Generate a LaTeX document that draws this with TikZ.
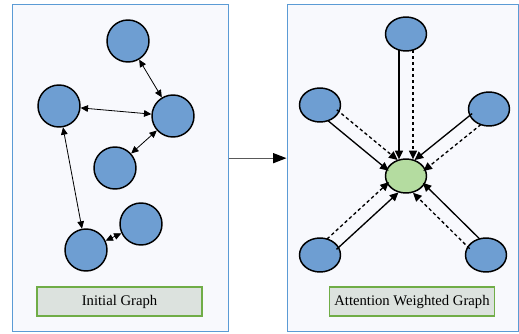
\documentclass[tikz,border=0pt]{standalone}
\usepackage{fontspec}
\setmainfont{Liberation Serif}
\usetikzlibrary{arrows.meta}
\usetikzlibrary{calc, shapes.geometric}

\definecolor{nodeblue}{HTML}{6E9ED2}
\definecolor{nodegreen}{HTML}{B4DCA0}
\definecolor{panelfill}{HTML}{F8F9FD}
\definecolor{panelline}{HTML}{5B9BD5}
\definecolor{tagfill}{HTML}{DCE2DE}
\definecolor{tagline}{HTML}{70AD47}

\tikzset{
  panel/.style = {draw=panelline, fill=panelfill, line width=0.75pt, inner sep=0pt},
  bnode/.style = {circle, draw, fill=nodeblue, line width=1.1pt, minimum size=31.5pt, inner sep=0pt},
  enode/.style = {ellipse, draw, fill=nodeblue, line width=1.1pt, minimum width=30.75pt, minimum height=25.5pt, inner sep=0pt},
  tag/.style   = {draw=tagline, fill=tagfill, line width=1.1pt, minimum width=124pt, minimum height=21.75pt, inner sep=0pt, font=\fontsize{11}{13}\selectfont}
}

\begin{document}
\begin{tikzpicture}[x = 0.75pt, y = -0.75pt, >={Triangle[length=5.5pt,width=5pt]}]
\useasboundingbox (0,0) rectangle (519,333);

% panels
\node(initpanel) at (120,167.5) [panel, minimum width=162pt, minimum height=245.25pt]{};
\node(attpanel) at (402.5,167.5) [panel, minimum width=173.25pt, minimum height=245.25pt]{};
\draw[-{Triangle[length=10pt,width=7.5pt,color=black]}, line width=0.9pt, draw=black!65] ([yshift=7pt]initpanel.east) -- ([yshift=7pt]attpanel.west);

% initial graph
\node(a) at (128,41) [bnode]{};
\node(b) at (59,106) [bnode]{};
\node(c) at (173,116) [bnode]{};
\node(d) at (115,168) [bnode]{};
\node(e) at (141,224) [bnode]{};
\node(f) at (86,250) [bnode]{};
\draw[<->, line width=0.6pt] (a) -- (c);
\draw[<->, line width=0.6pt] (b) -- (c);
\draw[<->, line width=0.6pt] (c) -- (d);
\draw[<->, line width=0.6pt] (b) -- (f);
\draw[<->, line width=0.6pt] (e) -- (f);
\node(inittag) at (119.5,301.5) [tag]{Initial Graph};

% attention weighted graph
\node(ctr) at (406,176) [enode, fill=nodegreen]{};
\node(top) at (406,34) [enode]{};
\node(ul) at (320,105) [enode]{};
\node(ur) at (489,109) [enode]{};
\node(ll) at (320,255) [enode]{};
\node(lr) at (486,255) [enode]{};
\foreach \o in {top,ul,ur,ll,lr}{
  \draw[-{Triangle[length=6.5pt,width=6pt]}, line width=1pt, shorten <=12pt, shorten >=12.5pt]
    ($(\o.center)!5.25pt!-90:(ctr.center)$) -- ($(ctr.center)!5.25pt!90:(\o.center)$);
  \draw[-{Triangle[length=6.5pt,width=6pt]}, line width=1pt, dash pattern=on 2.5pt off 2pt, shorten <=12pt, shorten >=12.5pt]
    ($(\o.center)!5.25pt!90:(ctr.center)$) -- ($(ctr.center)!5.25pt!-90:(\o.center)$);
}
\node(atttag) at (412,301.5) [tag]{Attention Weighted Graph};

\end{tikzpicture}
\end{document}
